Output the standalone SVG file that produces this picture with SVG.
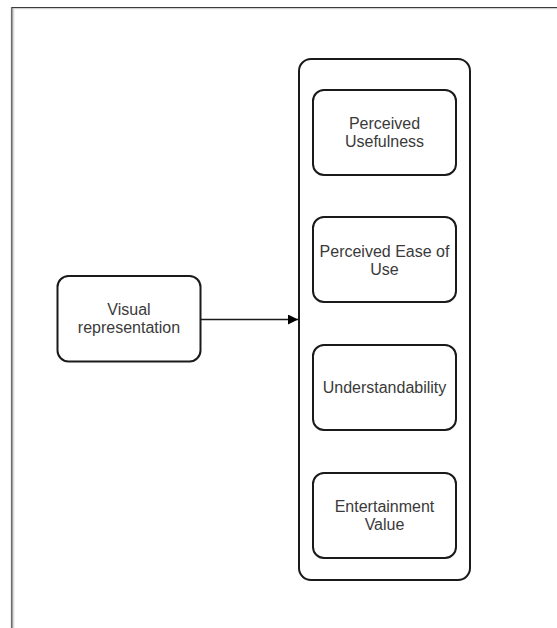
<svg xmlns="http://www.w3.org/2000/svg" width="557" height="628" viewBox="0 0 557 628">
  <style>
    .box { fill: #ffffff; stroke: #1a1a1a; stroke-width: 2; }
    .label { font-family: "Liberation Sans", Arial, sans-serif; font-size: 16px; fill: #3a3a3a; text-anchor: middle; }
    .edge { stroke: #1a1a1a; stroke-width: 1.5; fill: none; }
  </style>
  <defs>
    <marker id="arrow" markerWidth="10" markerHeight="10" refX="10" refY="5" orient="auto" markerUnits="userSpaceOnUse">
      <path d="M0,0 L10,5 L0,10 Z" fill="#000000"/>
    </marker>
  </defs>
  <rect width="557" height="628" fill="#ffffff"/>

  <!-- page frame (top and left edges) -->
  <g id="frame">
    <line x1="11" y1="7.5" x2="557" y2="7.5" stroke="#3c3c3c" stroke-width="1.2"/>
    <line x1="12" y1="8.7" x2="557" y2="8.7" stroke="#c8c8c8" stroke-width="1"/>
    <line x1="11.5" y1="7" x2="11.5" y2="628" stroke="#6a6a6a" stroke-width="1.2"/>
    <line x1="12.7" y1="8" x2="12.7" y2="628" stroke="#9a9a9a" stroke-width="1.2"/>
    <line x1="13.8" y1="9" x2="13.8" y2="628" stroke="#d8d8d8" stroke-width="1"/>
  </g>

  <!-- connectors -->
  <g id="connectors">
    <line class="edge" x1="201" y1="319.5" x2="298" y2="319.5" marker-end="url(#arrow)"/>
  </g>

  <g id="visual-representation">
    <rect class="box" x="57.5" y="276" width="143" height="85.5" rx="11"/>
    <text class="label" x="129" y="315">Visual</text>
    <text class="label" x="129" y="333">representation</text>
  </g>

  <g id="outcomes">
    <rect class="box" x="299" y="59" width="171" height="521" rx="12"/>
  </g>

  <g id="perceived-usefulness">
    <rect class="box" x="313" y="90" width="143" height="85" rx="11"/>
    <text class="label" x="384.5" y="129">Perceived</text>
    <text class="label" x="384.5" y="147">Usefulness</text>
  </g>

  <g id="perceived-ease-of-use">
    <rect class="box" x="313" y="217" width="143" height="85" rx="11"/>
    <text class="label" x="384.5" y="256.5">Perceived Ease of</text>
    <text class="label" x="384.5" y="274.5">Use</text>
  </g>

  <g id="understandability">
    <rect class="box" x="313" y="345" width="143" height="85" rx="11"/>
    <text class="label" x="384.5" y="392.5">Understandability</text>
  </g>

  <g id="entertainment-value">
    <rect class="box" x="313" y="473" width="143" height="85" rx="11"/>
    <text class="label" x="384.5" y="511.5">Entertainment</text>
    <text class="label" x="384.5" y="529.5">Value</text>
  </g>
</svg>
